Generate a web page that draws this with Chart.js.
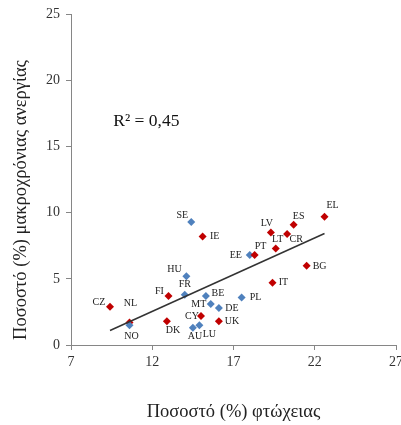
<!DOCTYPE html>
<html>
<head>
<meta charset="utf-8">
<script src="https://cdn.jsdelivr.net/npm/chart.js@4.4.1/dist/chart.umd.min.js"></script>
<style>
  html, body { margin: 0; padding: 0; background: #fff; overflow: hidden; }
  #wrap { width: 420px; height: 425px; position: relative; }
</style>
</head>
<body>
<div id="wrap"><canvas id="myChart"></canvas></div>
<script>
// data
var countries = ["SE","IE","HU","FR","FI","CZ","NL","NO","DK","CY","AU","LU","BE","MT","DE","UK","PL","IT","BG","EE","PT","LT","LV","CR","ES","EL"];
var povertyRate = [14.4, 15.1, 14.1, 14.0, 13.0, 9.4, 10.6, 10.6, 12.9, 15.0, 14.5, 14.9, 15.3, 15.6, 16.1, 16.1, 17.5, 19.4, 21.5, 18.0, 18.3, 19.6, 19.3, 20.3, 20.7, 22.6];
var longTermUnemp = [9.3, 8.2, 5.2, 3.8, 3.7, 2.9, 1.7, 1.5, 1.8, 2.2, 1.3, 1.5, 3.7, 3.1, 2.8, 1.8, 3.6, 4.7, 6.0, 6.8, 6.8, 7.3, 8.5, 8.4, 9.1, 9.7];
var markerGroup = ["b","r","b","b","r","r","r","b","r","r","b","b","b","b","b","r","b","r","r","b","r","r","r","r","r","r"];
var xTicks = [7, 12, 17, 22, 27];
var yTicks = [0, 5, 10, 15, 20, 25];
var rSquaredText = "R\u00b2 = 0,45";
var yTitle = "Ποσοστό (%) μακροχρόνιας ανεργίας";
var xTitle = "Ποσοστό (%) φτώχειας";

var colorOf = {b: "#4f81bd", r: "#c00000"};
var font = "'Liberation Serif', serif";

// where each country label sits relative to its marker
var labelShift = {
  SE:[-9,-7], IE:[12,0], HU:[-12,-7], FR:[0,-10], FI:[-9,-5], CZ:[-11,-4],
  NL:[1,-19], NO:[2,11], DK:[6,9], CY:[-9,0], AU:[2,9], LU:[10,9],
  BE:[12,-3], MT:[-12,0], DE:[13,0], UK:[13,0], PL:[14,0], IT:[11,0],
  BG:[13,1], EE:[-14,0], PT:[6,-9], LT:[2,-9], LV:[-4,-9], CR:[9,5],
  ES:[5,-8], EL:[8,-11]
};

// linear trend from the points
var n = povertyRate.length, sx = 0, sy = 0, sxx = 0, sxy = 0;
for (var i = 0; i < n; i++) {
  sx += povertyRate[i]; sy += longTermUnemp[i];
  sxx += povertyRate[i] * povertyRate[i]; sxy += povertyRate[i] * longTermUnemp[i];
}
var slope = (n * sxy - sx * sy) / (n * sxx - sx * sx);
var icpt = (sy - slope * sx) / n;
var xMin = Math.min.apply(null, povertyRate), xMax = Math.max.apply(null, povertyRate);

var points = countries.map(function (c, i) { return {x: povertyRate[i], y: longTermUnemp[i]}; });

var pointLabels = {
  id: "pointLabels",
  afterDatasetsDraw: function (chart) {
    var ctx = chart.ctx;
    var meta = chart.getDatasetMeta(1);
    ctx.save();
    ctx.font = "10px " + font;
    ctx.fillStyle = "#222";
    ctx.textAlign = "center";
    ctx.textBaseline = "middle";
    meta.data.forEach(function (el, i) {
      var s = labelShift[countries[i]] || [10, 0];
      ctx.fillText(countries[i], el.x + s[0], el.y + s[1]);
    });
    var xs = chart.scales.x, ys = chart.scales.y;
    // R squared note
    ctx.font = "17.5px " + font;
    ctx.textAlign = "left";
    ctx.fillStyle = "#111";
    ctx.fillText(rSquaredText, xs.getPixelForValue(9.6), ys.getPixelForValue(16.9));
    // axis titles
    ctx.font = "18.5px " + font;
    ctx.fillStyle = "#222";
    ctx.textAlign = "center";
    ctx.fillText(xTitle, (xs.left + 396) / 2, 412);
    ctx.translate(21, 200);
    ctx.rotate(-Math.PI / 2);
    ctx.fillText(yTitle, 0, 0);
    ctx.restore();
  }
};

new Chart("myChart", {
  type: "scatter",
  data: {
    datasets: [{
      type: "line",
      data: [{x: xMin, y: slope * xMin + icpt}, {x: xMax, y: slope * xMax + icpt}],
      borderColor: "#333",
      borderWidth: 1.5,
      pointRadius: 0,
      fill: false
    }, {
      data: points,
      pointStyle: "rectRot",
      pointRadius: 4,
      pointBackgroundColor: markerGroup.map(function (g) { return colorOf[g]; }),
      pointBorderColor: markerGroup.map(function (g) { return colorOf[g]; }),
      pointBorderWidth: 0
    }]
  },
  options: {
    responsive: true,
    maintainAspectRatio: false,
    animation: false,
    layout: {padding: {top: 9, right: 24, left: 0, bottom: 0}},
    plugins: {legend: {display: false}, tooltip: {enabled: false}},
    scales: {
      x: {
        type: "linear",
        min: 7, max: 27,
        afterBuildTicks: function (s) { s.ticks = xTicks.map(function (v) { return {value: v}; }); },
        afterFit: function (s) { s.height = 80; },
        border: {color: "#868686"},
        grid: {drawOnChartArea: false, tickLength: 5, color: "#868686"},
        ticks: {color: "#333", font: {family: font, size: 14}, padding: 4}
      },
      y: {
        min: 0, max: 25,
        afterBuildTicks: function (s) { s.ticks = yTicks.map(function (v) { return {value: v}; }); },
        afterFit: function (s) { s.width = 71; },
        border: {color: "#868686"},
        grid: {drawOnChartArea: false, tickLength: 5, color: "#868686"},
        ticks: {color: "#333", font: {family: font, size: 14}, padding: 6}
      }
    }
  },
  plugins: [pointLabels]
});
</script>
</body>
</html>
